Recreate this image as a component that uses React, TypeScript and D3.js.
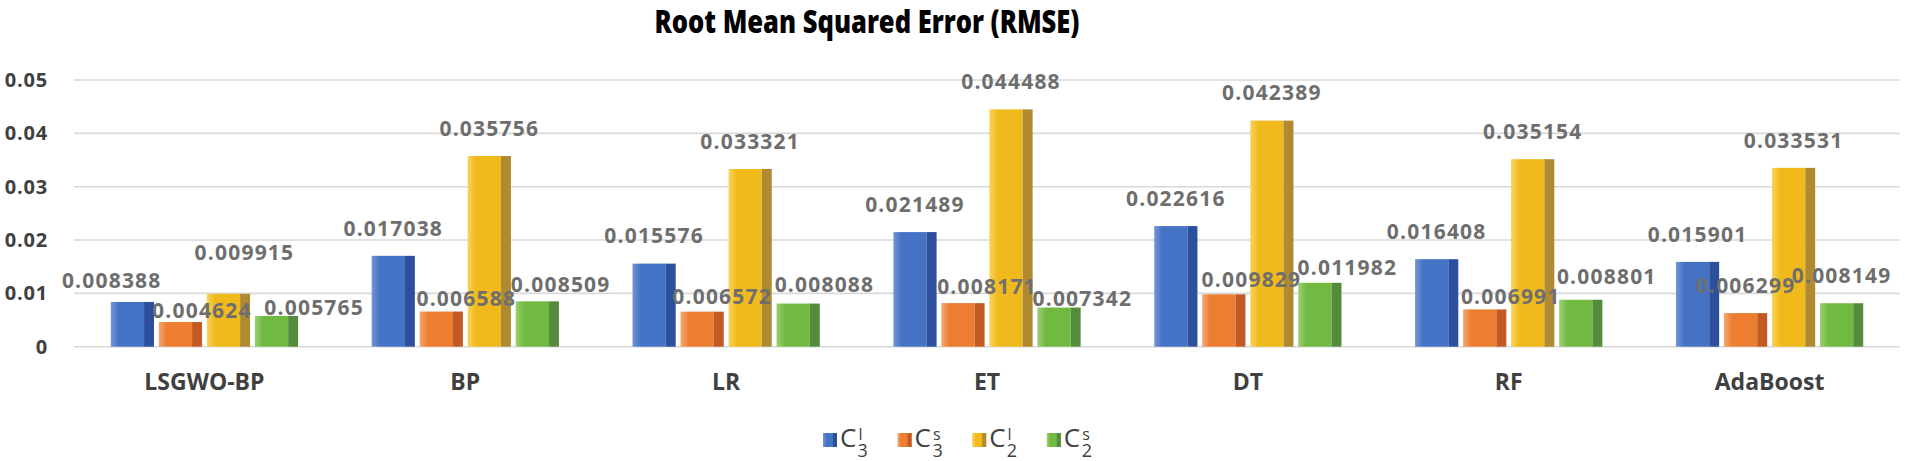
import React from "react";
import * as d3 from "d3";

const categories = ["LSGWO-BP", "BP", "LR", "ET", "DT", "RF", "AdaBoost"];
const c3l = [0.008388, 0.017038, 0.015576, 0.021489, 0.022616, 0.016408, 0.015901];
const c3s = [0.004624, 0.006588, 0.006572, 0.008171, 0.009829, 0.006991, 0.006299];
const c2l = [0.009915, 0.035756, 0.033321, 0.044488, 0.042389, 0.035154, 0.033531];
const c2s = [0.005765, 0.008509, 0.008088, 0.007342, 0.011982, 0.008801, 0.008149];
const yTicks = [0, 0.01, 0.02, 0.03, 0.04, 0.05];
const seriesKeys = ["c3l", "c3s", "c2l", "c2s"];
const seriesSup = ["l", "s", "l", "s"];
const seriesSub = ["3", "3", "2", "2"];
const title = "Root Mean Squared Error (RMSE)";

// label nudges (dx, dy) per category, per series — matching the manually placed labels
const labelNudges: [number, number][][] = [
  [[-20.7, 6.5], [21.5, 15.7], [16, -13.6], [37.7, 19.3]],
  [[0, 0], [25, 14.4], [0, 0], [23.4, 10.7]],
  [[0, 0], [20, 13], [0, 0], [26.3, 9.1]],
  [[0, 0], [24, 11.3], [0, 0], [23.3, 18.2]],
  [[0, 0], [27.6, 13.4], [0, 0], [27.5, 12.7]],
  [[0, 0], [26, 15], [0, 0], [26, 4.7]],
  [[0, 0], [0, 0], [0, 0], [0, 0]],
];

const colors = [
  { light: "#7396d6", main: "#4472C4", dark: "#2C4F9E" },
  { light: "#f4a672", main: "#ED7D31", dark: "#C35A25" },
  { light: "#f8d35c", main: "#F1BA1C", dark: "#B08A30" },
  { light: "#9bd072", main: "#71BA41", dark: "#528C3C" },
];

const W = 1905;
const H = 461;

export default function App() {
  const series = [c3l, c3s, c2l, c2s];
  const y = d3.scaleLinear().domain([0, 0.05]).range([346.7, 80]);
  const x0 = d3.scaleBand<string>().domain(categories).range([74, 1900]);
  const x1 = d3
    .scaleBand<string>()
    .domain(seriesKeys)
    .range([36.8, x0.bandwidth() - 36.8])
    .paddingInner(0.1);
  const bw = x1.bandwidth();
  const darkW = bw * 0.23;
  const legendX = d3.scaleBand<string>().domain(seriesKeys).range([823, 823 + 4 * 74.6]);

  return (
    <svg
      width={W}
      height={H}
      style={{ position: "absolute", left: 0, top: 0, display: "block", background: "#fff" }}
    >
      <defs>
        {colors.map((c, i) => (
          <linearGradient key={i} id={`g${i}`} x1="0" x2="1" y1="0" y2="0">
            <stop offset="0" stopColor={c.light} />
            <stop offset="0.25" stopColor={c.main} />
            <stop offset="1" stopColor={c.main} />
          </linearGradient>
        ))}
      </defs>
      <text
        x={867}
        y={33}
        textAnchor="middle"
        fontFamily="'Open Sans', 'Noto Sans', sans-serif"
        fontWeight={800}
        fontSize={32}
        textLength={425}
        lengthAdjust="spacingAndGlyphs"
        fill="#000"
      >
        {title}
      </text>

      {yTicks.map((t) => (
        <g key={t}>
          <line x1={74} x2={1900} y1={y(t)} y2={y(t)} stroke="#d9d9d9" strokeWidth={1.6} />
          <text
            x={48}
            y={y(t) + 7}
            textAnchor="end"
            fontFamily="'Open Sans', sans-serif"
            fontWeight={700}
            fontSize={20}
            letterSpacing={0.8}
            fill="#404040"
          >
            {t === 0 ? "0" : String(t)}
          </text>
        </g>
      ))}

      {categories.map((cat, ci) => (
        <g key={cat} transform={`translate(${x0(cat)},0)`}>
          {seriesKeys.map((k, si) => {
            const v = series[si][ci];
            const bx = x1(k)!;
            const top = y(v);
            const h = y(0) - top;
            return (
              <g key={k}>
                <rect x={bx} y={top} width={bw - darkW} height={h} fill={`url(#g${si})`} />
                <rect x={bx + bw - darkW} y={top} width={darkW} height={h} fill={colors[si].dark} />
              </g>
            );
          })}
          <text
            x={x0.bandwidth() / 2}
            y={390}
            textAnchor="middle"
            fontFamily="'Open Sans', sans-serif"
            fontWeight={700}
            fontSize={23}
            fill="#404040"
          >
            {cat}
          </text>
        </g>
      ))}

      {categories.map((cat, ci) => (
        <g key={cat + "-lbl"} transform={`translate(${x0(cat)},0)`}>
          {seriesKeys.map((k, si) => {
            const v = series[si][ci];
            const [dx, dy] = labelNudges[ci][si];
            const cx = x1(k)! + bw / 2 + dx;
            const cy = y(v) - 27.7 + dy;
            return (
              <text
                key={k}
                x={cx}
                y={cy + 7.5}
                textAnchor="middle"
                fontFamily="'Open Sans', sans-serif"
                fontWeight={700}
                fontSize={21}
                letterSpacing={1.2}
                fill="#6e6e6e"
              >
                {v.toFixed(6)}
              </text>
            );
          })}
        </g>
      ))}

      {seriesKeys.map((k, si) => {
        const lx = legendX(k)!;
        return (
          <g key={k + "-leg"}>
            <rect x={lx} y={433} width={14} height={14} fill={`url(#g${si})`} />
            <rect x={lx + 10} y={433} width={4} height={14} fill={colors[si].dark} />
            <text x={lx + 17} y={447} fontFamily="'Open Sans', sans-serif" fontSize={26} fill="#404040">
              C
              <tspan fontSize={16} dx={2} dy={-7}>
                {seriesSup[si]}
              </tspan>
              <tspan fontSize={18} dx={seriesSup[si] === "l" ? -5 : -8} dy={17}>
                {seriesSub[si]}
              </tspan>
            </text>
          </g>
        );
      })}
    </svg>
  );
}
